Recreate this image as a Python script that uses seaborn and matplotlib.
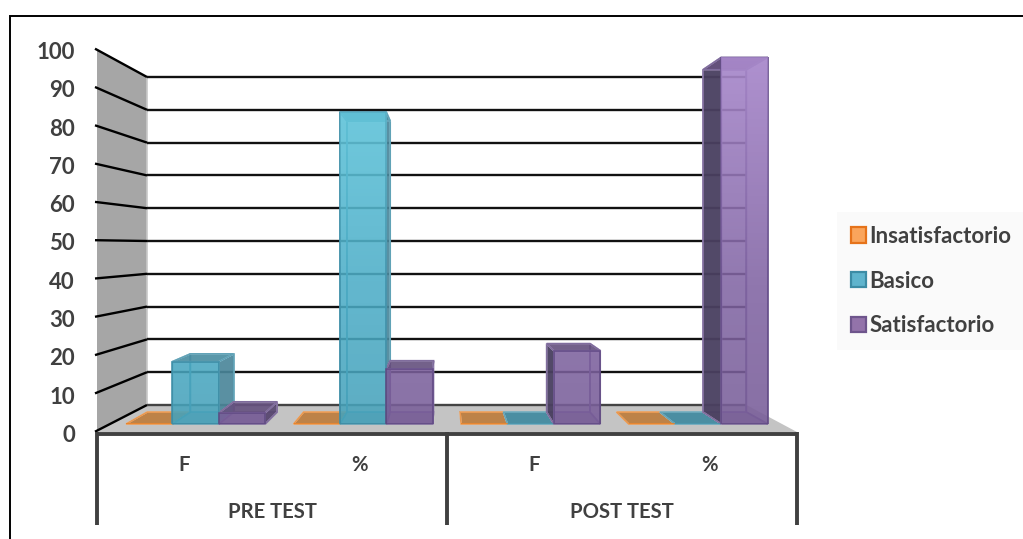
import numpy as np
import pandas as pd
import matplotlib
matplotlib.use("Agg")
import matplotlib.pyplot as plt
from matplotlib.patches import Patch, Polygon
import seaborn as sns

# values
categories = ["PRE F", "PRE %", "POST F", "POST %"]
tick_names = ["F", "%", "F", "%"]
groups = ["PRE TEST", "POST TEST"]
levels = ["Insatisfactorio", "Basico", "Satisfactorio"]
insatisfactorio = [0, 0, 0, 0]
basico = [17, 85, 0, 0]
satisfactorio = [3, 15, 20, 100]
y_ticks = list(range(0, 101, 10))

colors = ["#F79646", "#4BACC6", "#8064A2"]
edges = ["#E67E22", "#3F8FA8", "#644C88"]
top_colors = ["#BD8248", "#4B8EA2", "#66527F"]
side_light = ["#BD8248", "#4A8599", "#57476F"]
side_dark = ["#BD8248", "#3F6C7C", "#4A4060"]
tints = [(1.0, 0.8, 0.6), (0.55, 0.95, 1.0), (0.86, 0.72, 1.0)]
legend_faces = ["#FAA55C", "#5FB4CD", "#9373AA"]
legend_edges = ["#E6731A", "#3C8CA5", "#6E558C"]

W, H = 1023, 539
# perspective of the 3D box, in pixels
VP = (445.0, 244.0)
X0, X1 = 97.0, 797.0
Y0, Y100 = 432.0, 49.0
T_WALL = 0.8563
T_FRONT = 0.9574
T_BACK = 0.894
TEXT = "#404040"


def persp(x, y, t):
    return VP[0] + (x - VP[0]) * t, VP[1] + (y - VP[1]) * t


df = pd.DataFrame({
    "cat": categories * 3,
    "nivel": np.repeat(levels, 4),
    "val": insatisfactorio + basico + satisfactorio,
})

sns.set_theme(style="white")
plt.rcParams["font.family"] = ["Lato", "DejaVu Sans"]
plt.rcParams["font.weight"] = "bold"

fig = plt.figure(figsize=(W / 100, H / 100), dpi=100, facecolor="white")

# back layer in pixel coords: walls, floor, box sides
bg = fig.add_axes([0, 0, 1, 1])
bg.set_xlim(0, W)
bg.set_ylim(H, 0)
bg.axis("off")

# outer frame
bg.plot([9.5, 9.5, W], [H, 15.5, 15.5], color="black", lw=1.4, solid_joinstyle="miter")

fx0, fy0 = persp(X0, Y0, T_WALL)
fx1, fy1 = persp(X1, Y0, T_WALL)
wx, wy100 = persp(X0, Y100, T_WALL)

# floor and left wall
bg.add_patch(Polygon([(X0, Y0), (fx0, fy0), (fx1, fy1), (X1, Y0)], fc="#C4C4C4", ec="none", zorder=1))
bg.add_patch(Polygon([(X0, Y0), (fx0, fy0), (wx, wy100), (X0, Y100)], fc="#A6A6A6", ec="none", zorder=1))
bg.plot([fx0, fx0], [wy100, fy0], color="#C8C8C8", lw=1.2, zorder=1.5)

# gridlines on wall and back
for v in y_ticks:
    y = Y0 + (Y100 - Y0) * v / 100
    bx, by = persp(X0, y, T_WALL)
    ex, ey = persp(X1, y, T_WALL)
    bg.plot([X0 - 2, bx], [y - 0.3, by], color="black", lw=1.7, zorder=2, solid_capstyle="butt")
    bg.plot([bx, ex], [by, ey], color="#111111" if v else "#444444", lw=1.7, zorder=2, solid_capstyle="butt")
    bg.text(75, y + 3.5, str(v), ha="right", va="center", fontsize=16, color=TEXT, fontweight="bold")

# category axis under the floor
bg.plot([X0 - 1, X1 + 1], [Y0 + 1.5, Y0 + 1.5], color=TEXT, lw=2.8, solid_capstyle="butt", zorder=5)
mid = (X0 + X1) / 2
for x in [X0, mid, X1]:
    bg.plot([x, x], [Y0, 525], color=TEXT, lw=2.8, solid_capstyle="butt", zorder=5)
step = (X1 - X0) / len(tick_names)
for i, name in enumerate(tick_names):
    bg.text(X0 + step * (i + 0.5), 465, name, ha="center", va="center", fontsize=14.6, color=TEXT, fontweight="bold")
for i, name in enumerate(groups):
    bg.text(X0 + step * (2 * i + 1), 512, name, ha="center", va="center", fontsize=14.6, color=TEXT, fontweight="bold")

# front faces of the bars go through seaborn, on the plane the bars stand on
bx0, by0 = persp(X0, Y0, T_FRONT)
bx1, by100 = persp(X1, Y100, T_FRONT)
ax = fig.add_axes([bx0 / W, (H - by0) / H, (bx1 - bx0) / W, (by0 - by100) / H], zorder=3)
sns.barplot(data=df, x="cat", y="val", hue="nivel", hue_order=levels, order=categories,
            palette=colors, width=0.83, gap=0, alpha=0.85, saturation=1, linewidth=1.2,
            errorbar=None, legend=False, ax=ax)
ax.set_xlim(-0.5, 3.5)
ax.set_ylim(0, 100)
ax.patch.set_alpha(0)
ax.axis("off")


# light at the top of the tall bars, a little shade at the floor
def make_shade(tint):
    shade = np.zeros((100, 1, 4))
    for i in range(100):
        level = 99 - i  # row 0 is the top of the image
        if level > 35:
            shade[i, 0] = [*tint, 0.42 * (level - 35) / 65]
        else:
            shade[i, 0] = [0, 0, 0, 0.05 * (35 - level) / 35]
    return shade


# depth faces from the bars seaborn drew
fig.canvas.draw()
ratio = T_BACK / T_FRONT
for k, cont in enumerate(ax.containers):
    for bar in cont:
        bar.set_edgecolor(edges[k])
        h = bar.get_height()
        (l, b), (r, t) = ax.transData.transform([(bar.get_x(), bar.get_y()),
                                                 (bar.get_x() + bar.get_width(), h)])
        b, t = H - b, H - t
        fl, ft = (l, t), (r, t)
        fb, fr = (l, b), (r, b)
        bl_t = persp(l, t, ratio)
        br_t = persp(r, t, ratio)
        bl_b = persp(l, b, ratio)
        br_b = persp(r, b, ratio)
        zero = h == 0
        left_of_vp = (l + r) / 2 < VP[0]
        lc = side_dark[k] if not left_of_vp else colors[k]
        rc = side_light[k] if left_of_vp else colors[k]
        faces = [([bl_b, br_b, br_t, bl_t], colors[k], 0.12),
                 ([fb, fr, br_b, bl_b], top_colors[k], 0.5),
                 ([fb, bl_b, bl_t, fl], lc, 0.95 if not left_of_vp else 0.12),
                 ([fr, br_b, br_t, ft], rc, 0.9 if left_of_vp else 0.2),
                 ([fl, ft, br_t, bl_t], top_colors[k], 1.0 if zero else 0.9)]
        if zero:
            faces = faces[-1:]
        else:
            x0 = bar.get_x()
            im = ax.imshow(make_shade(tints[k]), extent=[x0, x0 + bar.get_width(), 0, 100],
                           aspect="auto", zorder=bar.get_zorder() + 0.1)
            im.set_clip_path(bar)
        for pts, fc, alpha in faces:
            bg.add_patch(Polygon(pts, fc=fc, alpha=alpha, zorder=3))
            bg.add_patch(Polygon(pts, fc="none", ec=edges[k], lw=1.2, alpha=0.8, zorder=3))
ax.set_xlim(-0.5, 3.5)
ax.set_ylim(0, 100)

handles = [Patch(fc=f, ec=e, lw=1.6) for f, e in zip(legend_faces, legend_edges)]
leg = fig.legend(handles, levels, loc="upper left",
                 bbox_to_anchor=(837 / W, (H - 212) / H), bbox_transform=fig.transFigure,
                 frameon=True, facecolor="#FAFAFA", edgecolor="none", framealpha=1, fancybox=False,
                 fontsize=16, labelcolor=TEXT, handlelength=0.68, handleheight=0.68,
                 handletextpad=0.16, labelspacing=1.07, borderaxespad=0, borderpad=0.62)

fig.savefig("out.png", dpi=100)
